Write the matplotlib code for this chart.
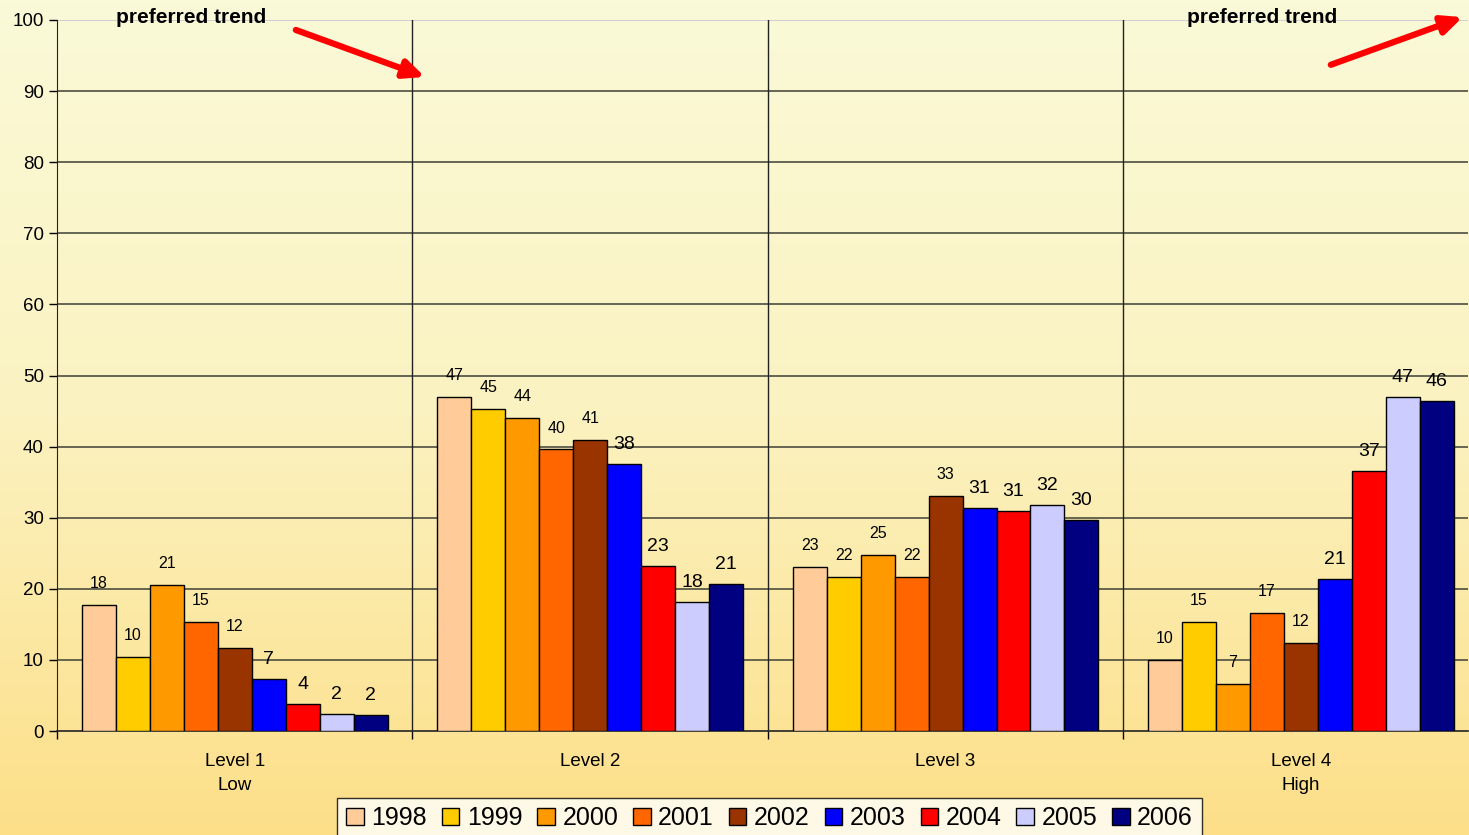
import matplotlib.pyplot as plt
import numpy as np
from matplotlib.colors import LinearSegmentedColormap
from matplotlib.patches import Patch

levels = ["Level 1\nLow", "Level 2", "Level 3", "Level 4\nHigh"]
years = ["1998", "1999", "2000", "2001", "2002", "2003", "2004", "2005", "2006"]
colors = ["#FFCC99", "#FFCC00", "#FF9900", "#FF6600", "#993300",
          "#0000FF", "#FF0000", "#CCCCFF", "#000080"]

# one list per level, values in year order
level1 = [17.7, 10.4, 20.6, 15.3, 11.7, 7.3, 3.8, 2.4, 2.3]
level2 = [47.0, 45.3, 44.0, 39.6, 40.9, 37.6, 23.2, 18.1, 20.7]
level3 = [23.1, 21.7, 24.8, 21.7, 33.1, 31.3, 30.9, 31.8, 29.7]
level4 = [10.0, 15.4, 6.6, 16.6, 12.4, 21.4, 36.6, 47.0, 46.4]

plt.rcParams["font.family"] = ["Liberation Sans", "DejaVu Sans"]


def main():
    data = np.array([level1, level2, level3, level4])

    fig = plt.figure(figsize=(14.69, 8.35), dpi=100)

    # gradient background
    bg = fig.add_axes([0, 0, 1, 1], zorder=-10)
    cmap = LinearSegmentedColormap.from_list("bg", ["#FAFAD8", "#FBF2C0", "#FDDF88"])
    bg.imshow(np.linspace(0, 1, 256).reshape(-1, 1), aspect="auto", cmap=cmap,
              extent=[0, 1, 0, 1], origin="upper")
    bg.axis("off")

    ax = fig.add_axes([57 / 1469, (835 - 731) / 835, 1411 / 1469, 711 / 835])
    ax.set_facecolor("none")

    n = len(years)
    width = 0.0956
    x = np.arange(len(levels))
    for i, (year, col) in enumerate(zip(years, colors)):
        pos = x + (i - (n - 1) / 2) * width
        vals = data[:, i]
        ax.bar(pos, vals, width=width, color=col, edgecolor="black",
               linewidth=1.0, zorder=3)
        big = i >= 5
        for p, v in zip(pos, vals):
            ax.annotate(f"{v:.0f}", (p, v), xytext=(0, 8 if big else 10),
                        textcoords="offset points", ha="center", va="bottom",
                        fontsize=14 if big else 11.5, zorder=4)

    ax.set_xlim(-0.5, 3.47)
    ax.set_ylim(0, 100)
    ax.set_yticks(range(0, 101, 10))
    ax.tick_params(axis="y", labelsize=13.5, length=6, width=1, direction="out")
    for yv in range(10, 100, 10):
        ax.axhline(yv, color="#4d4d40", linewidth=1.2, zorder=1)
    ax.axhline(100, color="#c8c8d4", linewidth=1.2, zorder=1)

    for xv in [0.5, 1.5, 2.5]:
        ax.axvline(xv, color="#222222", linewidth=1.0, zorder=1)

    ax.set_xticks([-0.5, 0.5, 1.5, 2.5])
    ax.set_xticklabels([])
    ax.tick_params(axis="x", length=6, width=1, direction="out")
    ax.set_xticks(x, minor=True)
    ax.set_xticklabels(levels, minor=True, fontsize=13.5, linespacing=1.55)
    ax.tick_params(axis="x", which="minor", length=0, pad=16)

    for s in ["top", "right"]:
        ax.spines[s].set_visible(False)
    ax.spines["left"].set_color("#222222")
    ax.spines["bottom"].set_color("#222222")
    ax.spines["bottom"].set_linewidth(1.2)

    # "preferred trend" notes with arrows
    ax.text(-0.123, 100.4, "preferred trend", ha="center", va="center",
            fontsize=15, fontweight="bold", clip_on=False, zorder=5)
    ax.text(2.892, 100.4, "preferred trend", ha="center", va="center",
            fontsize=15, fontweight="bold", clip_on=False, zorder=5)
    arrow = dict(arrowstyle="-|>,head_length=1.2,head_width=0.55",
                 color="#FF0000", lw=4.5, shrinkA=0, shrinkB=0)
    ax.annotate("", xy=(0.535, 92.0), xytext=(0.172, 98.6), arrowprops=arrow,
                annotation_clip=False, zorder=5)
    ax.annotate("", xy=(3.455, 100.4), xytext=(3.084, 93.7), arrowprops=arrow,
                annotation_clip=False, zorder=5)

    handles = [Patch(facecolor=c, edgecolor="black", linewidth=1.0) for c in colors]
    leg = fig.legend(handles, years, loc="lower center", ncol=n,
                     bbox_to_anchor=(769.5 / 1469, -0.005), fontsize=18,
                     frameon=True, fancybox=False, edgecolor="black",
                     handlelength=0.7, handleheight=0.7, handletextpad=0.3,
                     columnspacing=0.6, borderpad=0.35, borderaxespad=0)
    leg.get_frame().set_linewidth(1.0)
    leg.get_frame().set_facecolor("white")

    fig.savefig("out.png", dpi=100)
    plt.close(fig)


if __name__ == "__main__":
    main()
